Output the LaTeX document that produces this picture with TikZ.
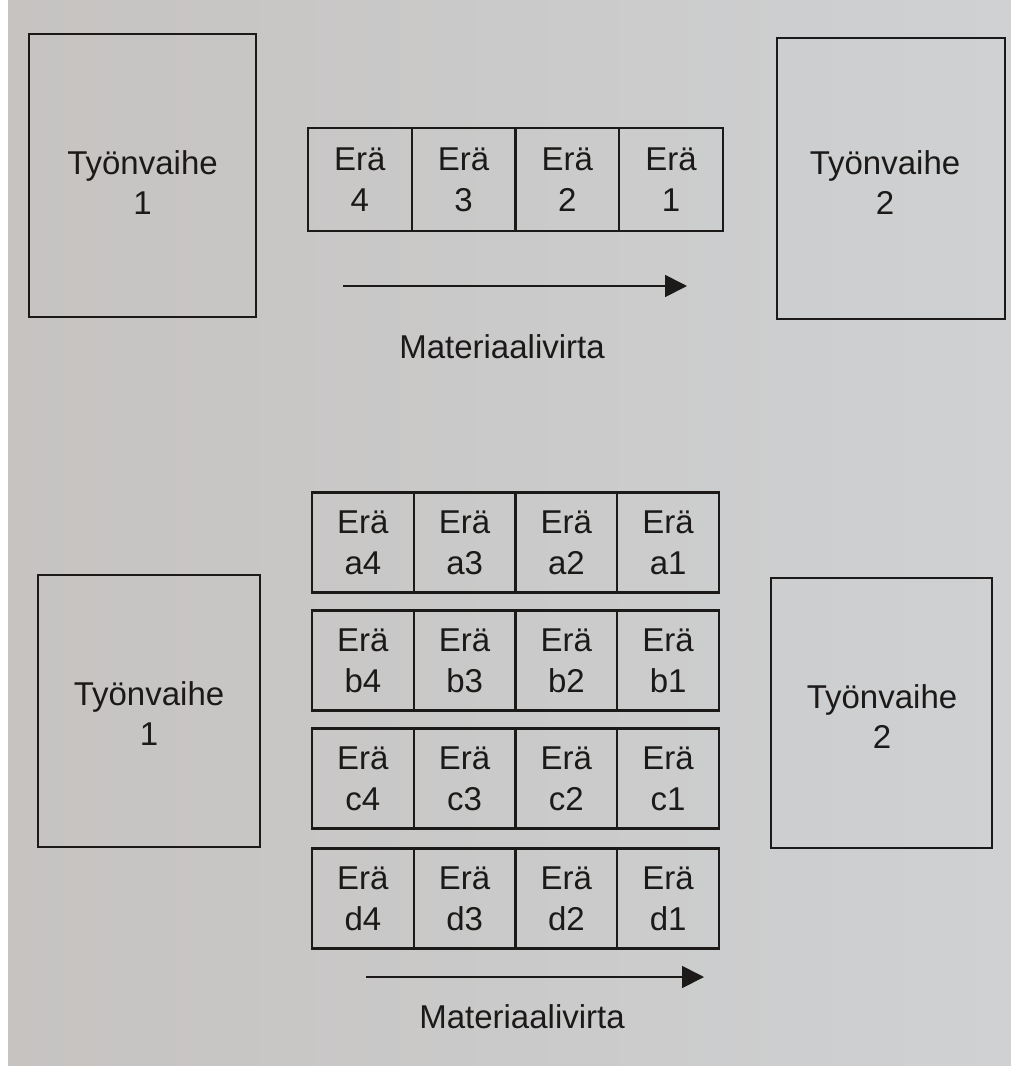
\documentclass[tikz,border=0pt]{standalone}
\usepackage{fontspec}
\setmainfont{Liberation Sans}
\usetikzlibrary{arrows.meta}
\definecolor{paperL}{RGB}{198,195,193}
\definecolor{paperR}{RGB}{207,209,211}
\definecolor{ink}{RGB}{28,26,24}
\tikzset{
  phasebox/.style={draw=ink, line width=2.2pt, inner sep=0pt, align=center,
    font=\fontsize{33}{40}\selectfont, text=ink},
  cellbox/.style={draw=ink, line width=2.2pt, inner sep=0pt, align=center,
    font=\fontsize{33}{41}\selectfont, text=ink},
  flowarrow/.style={draw=ink, line width=1.8pt, -{Triangle[length=22pt,width=22pt]}},
  flowlabel/.style={font=\fontsize{33}{40}\selectfont, text=ink, inner sep=0pt}
}
\begin{document}
\begin{tikzpicture}[x=1pt,y=-1pt]
\useasboundingbox (0,0) rectangle (1011,1066);
\fill[white] (0,0) rectangle (1011,1066);
\shade[left color=paperL, right color=paperR] (8,0) rectangle (1011,1066);

% ---- top diagram ----
\node[phasebox, minimum width=227pt, minimum height=283pt] (t1) at (142.5,175.5) {};
\node[text=ink, font=\fontsize{33}{40}\selectfont, align=center] (t1t) at (142.5,183) {Työnvaihe\\1};
\node[phasebox, minimum width=228pt, minimum height=281pt] (t2) at (891,178.5) {};
\node[text=ink, font=\fontsize{33}{40}\selectfont, align=center] (t2t) at (885,183) {Työnvaihe\\2};

\foreach \i/\lab in {0/4,1/3,2/2,3/1}{
  \node[cellbox, minimum width=103.75pt, minimum height=103pt]
    (top\lab) at ({308+103.75*\i+51.875},179.5) {Erä\\\lab};
}
\coordinate (ta) at (343,286);
\coordinate (tb) at (687,286);
\draw[flowarrow] (ta) -- (tb);
\node[flowlabel] (tl) at (502,347) {Materiaalivirta};

% ---- bottom diagram ----
\node[phasebox, minimum width=222pt, minimum height=272pt] (b1) at (149,711) {};
\node[text=ink, font=\fontsize{33}{40}\selectfont, align=center] (b1t) at (149,714) {Työnvaihe\\1};
\node[phasebox, minimum width=221pt, minimum height=270pt] (b2) at (881.5,713) {};
\node[text=ink, font=\fontsize{33}{40}\selectfont, align=center] (b2t) at (882,717) {Työnvaihe\\2};

\foreach \r/\yc in {a/542.5,b/660.5,c/778.5,d/898.5}{
  \foreach \i/\lab in {0/4,1/3,2/2,3/1}{
    \node[cellbox, minimum width=101.75pt, minimum height=100pt]
      (\r\lab) at ({312+101.75*\i+50.875},\yc) {Erä\\\r\lab};
  }
}
\coordinate (ba) at (366,977);
\coordinate (bb) at (704,977);
\draw[flowarrow] (ba) -- (bb);
\node[flowlabel] (bl) at (522,1017) {Materiaalivirta};
\end{tikzpicture}
\end{document}
